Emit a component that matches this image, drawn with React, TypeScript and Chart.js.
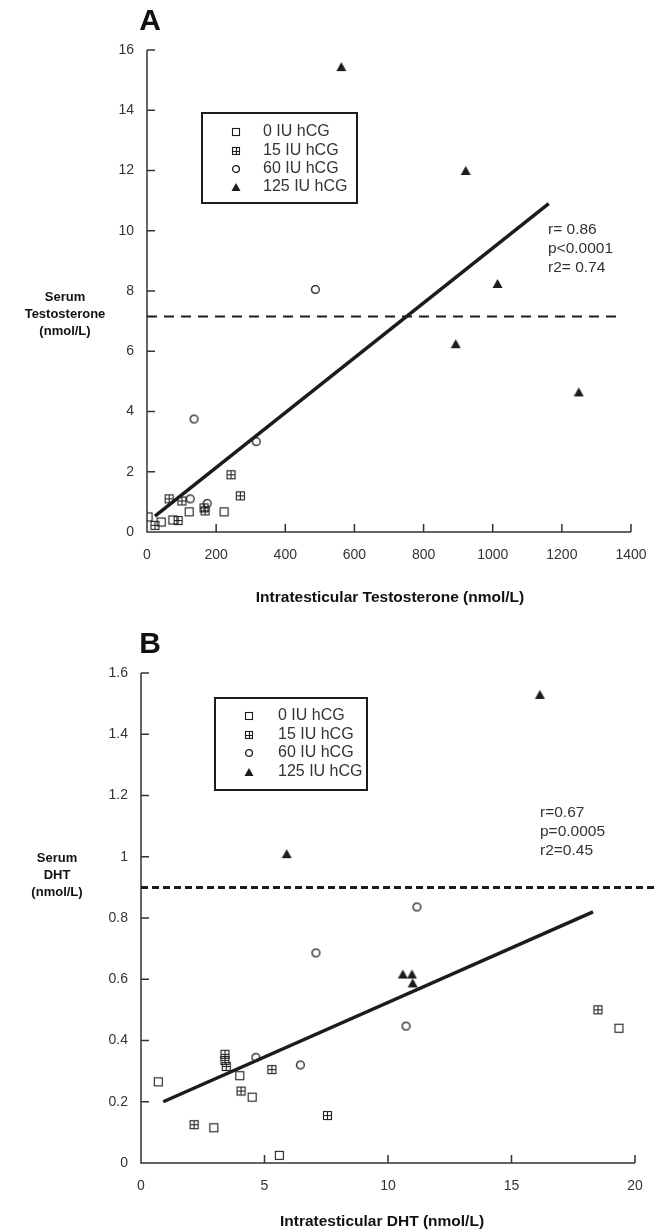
import { useEffect, useRef } from 'react';
import { Chart, registerables } from 'chart.js';

Chart.register(...registerables);

const FONT = '"Liberation Sans", Arial, Helvetica, sans-serif';
const INK = '#1c1c1c';
const GREY = '#333333';

const groupLabels = ['0 IU hCG', '15 IU hCG', '60 IU hCG', '125 IU hCG'];
const groupMarkers = ['square', 'crossSquare', 'circle', 'triangle'];

// ---------- Panel A ----------
const xTicksA = [0, 200, 400, 600, 800, 1000, 1200, 1400];
const yTicksA = [0, 2, 4, 6, 8, 10, 12, 14, 16];
const hcg0XA = [3, 41, 75, 122, 223];
const hcg0YA = [0.5, 0.33, 0.4, 0.67, 0.67];
const hcg15XA = [23, 64, 90, 101, 165, 168, 243, 270];
const hcg15YA = [0.22, 1.1, 0.38, 1.03, 0.8, 0.7, 1.9, 1.2];
const hcg60XA = [125, 136, 174, 316, 487];
const hcg60YA = [1.1, 3.75, 0.95, 3.0, 8.05];
const hcg125XA = [562, 922, 1014, 893, 1249];
const hcg125YA = [15.45, 12.0, 8.25, 6.25, 4.65];
const fitXA = [23, 1162];
const fitYA = [0.53, 10.9];
const refXA = [0, 1360];
const refYA = [7.15, 7.15];
const statsA = ['r= 0.86', 'p<0.0001', 'r2= 0.74'];
const yTitleA = ['Serum', 'Testosterone', '(nmol/L)'];
const xTitleA = 'Intratesticular Testosterone (nmol/L)';

// ---------- Panel B ----------
const xTicksB = [0, 5, 10, 15, 20];
const yTicksB = [0, 0.2, 0.4, 0.6, 0.8, 1, 1.2, 1.4, 1.6];
const hcg0XB = [0.7, 2.95, 4.0, 4.5, 5.6, 19.35];
const hcg0YB = [0.265, 0.115, 0.285, 0.215, 0.025, 0.44];
const hcg15XB = [2.15, 3.4, 3.4, 3.45, 4.05, 5.3, 7.55, 18.5];
const hcg15YB = [0.125, 0.355, 0.335, 0.315, 0.235, 0.305, 0.155, 0.5];
const hcg60XB = [4.65, 6.45, 7.08, 10.73, 11.17];
const hcg60YB = [0.345, 0.32, 0.686, 0.447, 0.836];
const hcg125XB = [5.9, 10.6, 10.97, 11.0, 16.15];
const hcg125YB = [1.01, 0.617, 0.617, 0.588, 1.53];
const fitXB = [0.9, 18.3];
const fitYB = [0.2, 0.82];
const refXB = [0, 21];
const refYB = [0.9, 0.9];
const statsB = ['r=0.67', 'p=0.0005', 'r2=0.45'];
const yTitleB = ['Serum', 'DHT', '(nmol/L)'];
const xTitleB = 'Intratesticular DHT (nmol/L)';

function makeMarker(kind: string, size: number): HTMLCanvasElement {
  const c = document.createElement('canvas');
  const s = size + 2;
  c.width = s;
  c.height = s;
  const ctx = c.getContext('2d')!;
  ctx.strokeStyle = INK;
  ctx.fillStyle = INK;
  ctx.lineWidth = 1;
  const m = s / 2;
  if (kind === 'square' || kind === 'crossSquare') {
    ctx.lineWidth = 1.1;
    ctx.strokeRect(1.5, 1.5, size - 1, size - 1);
    if (kind === 'crossSquare') {
      const mid = Math.floor(m) + 0.5;
      ctx.beginPath();
      ctx.moveTo(mid, 1.5);
      ctx.lineTo(mid, size + 0.5);
      ctx.moveTo(1.5, mid);
      ctx.lineTo(size + 0.5, mid);
      ctx.stroke();
    }
  } else if (kind === 'circle') {
    ctx.lineWidth = 1.3;
    ctx.beginPath();
    ctx.arc(m, m, size / 2 - 0.6, 0, Math.PI * 2);
    ctx.stroke();
  } else {
    ctx.beginPath();
    ctx.moveTo(m, 1);
    ctx.lineTo(s - 0.5, s - 1);
    ctx.lineTo(0.5, s - 1);
    ctx.closePath();
    ctx.fill();
  }
  return c;
}

type Panel = {
  top: number;
  height: number;
  letter: string;
  letterPos: [number, number];
  groups: { x: number[]; y: number[] }[];
  fitX: number[];
  fitY: number[];
  refX: number[];
  refY: number[];
  refDash: number[];
  refWidth: number;
  xTicks: number[];
  yTicks: number[];
  padding: { left: number; right: number; top: number; bottom: number };
  stats: string[];
  statsPos: [number, number];
  yTitle: string[];
  yTitlePos: [number, number];
  xTitle: string;
  xTitlePos: [number, number];
  legendBox: [number, number, number, number];
  legendSymX: number;
  legendTextX: number;
  legendY: number[];
};

const panelA: Panel = {
  top: 0,
  height: 620,
  letter: 'A',
  letterPos: [150, 22],
  groups: [
    { x: hcg0XA, y: hcg0YA },
    { x: hcg15XA, y: hcg15YA },
    { x: hcg60XA, y: hcg60YA },
    { x: hcg125XA, y: hcg125YA },
  ],
  fitX: fitXA,
  fitY: fitYA,
  refX: refXA,
  refY: refYA,
  refDash: [10, 7],
  refWidth: 2,
  xTicks: xTicksA,
  yTicks: yTicksA,
  padding: { left: 107, right: 26, top: 50, bottom: 48 },
  stats: statsA,
  statsPos: [548, 230],
  yTitle: yTitleA,
  yTitlePos: [65, 297],
  xTitle: xTitleA,
  xTitlePos: [390, 598],
  legendBox: [202, 113, 357, 203],
  legendSymX: 236,
  legendTextX: 263,
  legendY: [132, 151, 169, 187],
};

const panelB: Panel = {
  top: 620,
  height: 612,
  letter: 'B',
  letterPos: [150, 645],
  groups: [
    { x: hcg0XB, y: hcg0YB },
    { x: hcg15XB, y: hcg15YB },
    { x: hcg60XB, y: hcg60YB },
    { x: hcg125XB, y: hcg125YB },
  ],
  fitX: fitXB,
  fitY: fitYB,
  refX: refXB,
  refY: refYB,
  refDash: [7, 4],
  refWidth: 3,
  xTicks: xTicksB,
  yTicks: yTicksB,
  padding: { left: 101, right: 22, top: 53, bottom: 29 },
  stats: statsB,
  statsPos: [540, 813],
  yTitle: yTitleB,
  yTitlePos: [57, 858],
  xTitle: xTitleB,
  xTitlePos: [382, 1222],
  legendBox: [215, 698, 367, 790],
  legendSymX: 249,
  legendTextX: 278,
  legendY: [716, 735, 753, 772],
};

function buildChart(canvas: HTMLCanvasElement, p: Panel) {
  const markers = groupMarkers.map((k) => makeMarker(k, 9));
  const legendMarkers = groupMarkers.map((k) => makeMarker(k, 8));
  const datasets: any[] = p.groups.map((g, i) => ({
    label: groupLabels[i],
    data: g.x.map((x, j) => ({ x, y: g.y[j] })),
    pointStyle: markers[i],
    pointRadius: 4.5,
    showLine: false,
    order: 2,
  }));
  datasets.push({
    label: 'fit',
    data: p.fitX.map((x, j) => ({ x, y: p.fitY[j] })),
    showLine: true,
    borderColor: INK,
    borderWidth: 3.5,
    pointRadius: 0,
    order: 1,
  });
  datasets.push({
    label: 'ref',
    data: p.refX.map((x, j) => ({ x, y: p.refY[j] })),
    showLine: true,
    borderColor: INK,
    borderWidth: p.refWidth,
    borderDash: p.refDash,
    pointRadius: 0,
    clip: false,
    order: 1,
  });

  const off = p.top;
  const deco = {
    id: 'deco',
    beforeDatasetsDraw(chart: any) {
      const ctx = chart.ctx;
      const xs = chart.scales.x;
      const ys = chart.scales.y;
      const x0 = xs.getPixelForValue(0);
      const y0 = ys.getPixelForValue(0);
      const xEnd = xs.getPixelForValue(p.xTicks[p.xTicks.length - 1]);
      const yTop = ys.getPixelForValue(p.yTicks[p.yTicks.length - 1]);
      ctx.save();
      ctx.strokeStyle = GREY;
      ctx.lineWidth = 1.5;
      ctx.beginPath();
      ctx.moveTo(x0, yTop);
      ctx.lineTo(x0, y0);
      ctx.lineTo(xEnd, y0);
      for (const v of p.yTicks) {
        if (v === 0) continue;
        const py = ys.getPixelForValue(v);
        ctx.moveTo(x0, py);
        ctx.lineTo(x0 + 8, py);
      }
      for (const v of p.xTicks) {
        if (v === 0) continue;
        const px = xs.getPixelForValue(v);
        ctx.moveTo(px, y0);
        ctx.lineTo(px, y0 - 8);
      }
      ctx.stroke();
      ctx.restore();
    },
    afterDraw(chart: any) {
      const ctx = chart.ctx;
      ctx.save();
      // panel letter
      ctx.fillStyle = '#111';
      ctx.font = `bold 30px ${FONT}`;
      ctx.textAlign = 'center';
      ctx.textBaseline = 'middle';
      ctx.fillText(p.letter, p.letterPos[0], p.letterPos[1] - off);
      // y title
      ctx.font = `bold 13px ${FONT}`;
      p.yTitle.forEach((t, i) => ctx.fillText(t, p.yTitlePos[0], p.yTitlePos[1] - off + i * 17));
      // x title
      ctx.font = `bold 15.5px ${FONT}`;
      ctx.fillText(p.xTitle, p.xTitlePos[0], p.xTitlePos[1] - off);
      // stats
      ctx.fillStyle = GREY;
      ctx.font = `15.5px ${FONT}`;
      ctx.textAlign = 'left';
      p.stats.forEach((t, i) => ctx.fillText(t, p.statsPos[0], p.statsPos[1] - off + i * 19));
      // legend box
      const [l, t, r, b] = p.legendBox;
      ctx.strokeStyle = INK;
      ctx.lineWidth = 2;
      ctx.strokeRect(l, t - off, r - l, b - t);
      ctx.font = `16px ${FONT}`;
      groupLabels.forEach((lab, i) => {
        const img = legendMarkers[i];
        const cy = p.legendY[i] - off;
        ctx.drawImage(img, Math.round(p.legendSymX - img.width / 2), Math.round(cy - img.height / 2));
        ctx.fillText(lab, p.legendTextX, cy);
      });
      ctx.restore();
    },
  };

  const tickFont = { family: FONT, size: 14 };
  return new Chart(canvas, {
    type: 'scatter',
    data: { datasets },
    plugins: [deco],
    options: {
      animation: false,
      responsive: false,
      devicePixelRatio: 1,
      events: [],
      layout: { padding: p.padding },
      plugins: { legend: { display: false }, tooltip: { enabled: false }, title: { display: false } },
      scales: {
        x: {
          type: 'linear',
          min: p.xTicks[0],
          max: p.xTicks[p.xTicks.length - 1],
          grid: { display: false },
          border: { display: false },
          afterBuildTicks: (s: any) => {
            s.ticks = p.xTicks.map((v) => ({ value: v }));
          },
          afterFit: (s: any) => {
            s.height = 40;
          },
          ticks: { font: tickFont, color: GREY, padding: 7, maxRotation: 0, autoSkip: false, callback: (v: any) => String(v) },
        },
        y: {
          type: 'linear',
          min: p.yTicks[0],
          max: p.yTicks[p.yTicks.length - 1],
          grid: { display: false },
          border: { display: false },
          afterBuildTicks: (s: any) => {
            s.ticks = p.yTicks.map((v) => ({ value: v }));
          },
          afterFit: (s: any) => {
            s.width = 40;
          },
          ticks: { font: tickFont, color: GREY, padding: 5, autoSkip: false, callback: (v: any) => String(v) },
        },
      },
    } as any,
  });
}

export default function App() {
  const refA = useRef<HTMLCanvasElement>(null);
  const refB = useRef<HTMLCanvasElement>(null);
  useEffect(() => {
    const a = buildChart(refA.current!, panelA);
    const b = buildChart(refB.current!, panelB);
    return () => {
      a.destroy();
      b.destroy();
    };
  }, []);
  return (
    <div style={{ position: 'absolute', left: 0, top: 0, width: 657, height: 1232, background: '#fff' }}>
      <canvas ref={refA} width={657} height={620} style={{ position: 'absolute', left: 0, top: 0, width: 657, height: 620 }} />
      <canvas ref={refB} width={657} height={612} style={{ position: 'absolute', left: 0, top: 620, width: 657, height: 612 }} />
    </div>
  );
}
